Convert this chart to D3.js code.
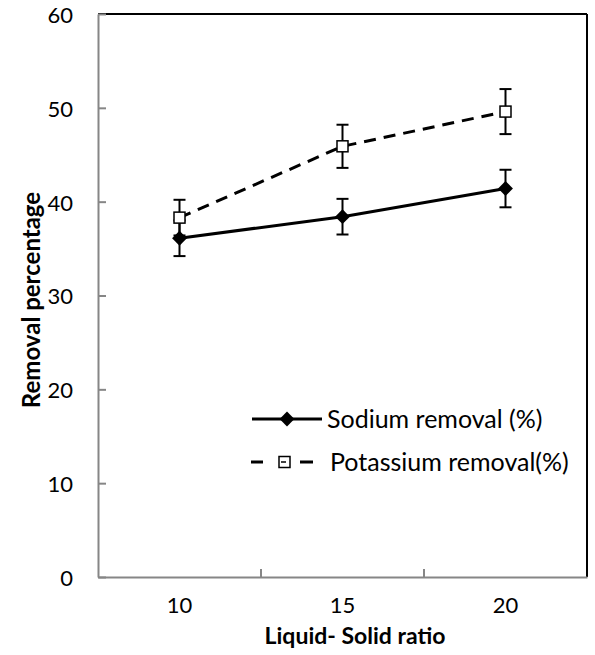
<!DOCTYPE html>
<html><head><meta charset="utf-8">
<script src="https://cdn.jsdelivr.net/npm/d3@7"></script>
<style>body{margin:0;background:#fff}</style>
</head><body>
<svg id="c" width="595" height="655"></svg>
<script>
const categories = ["10","15","20"];
const sodium = [36.1, 38.4, 41.4];
const sodiumErr = [1.9, 1.9, 2.0];
const potassium = [38.3, 45.9, 49.6];
const potassiumErr = [1.9, 2.3, 2.4];
const yTicks = [0,10,20,30,40,50,60];
const seriesNames = ["Sodium removal (%)", "Potassium removal(%)"];

const svg = d3.select("#c");
const m = {l:98, t:14, r:587, b:577};
const font = "Lato, 'Open Sans', sans-serif";
const x = d3.scaleBand().domain(categories).range([m.l, m.r]);
const y = d3.scaleLinear().domain([0,60]).range([m.b, m.t]);
const cx = d => x(d) + x.bandwidth()/2;

// borders top/right
svg.append("line").attr("x1",m.l).attr("x2",m.r).attr("y1",m.t).attr("y2",m.t).attr("stroke","#000").attr("stroke-width",2);
svg.append("line").attr("x1",m.r).attr("x2",m.r).attr("y1",m.t).attr("y2",m.b).attr("stroke","#000").attr("stroke-width",2);

// y axis
const ya = svg.append("g").attr("transform",`translate(${m.l},0)`)
  .call(d3.axisLeft(y).tickValues(yTicks).tickSizeInner(-8).tickSizeOuter(0).tickPadding(25));
ya.select(".domain").attr("stroke","#868686").attr("stroke-width",2);
ya.selectAll(".tick line").attr("stroke","#868686").attr("stroke-width",2);
ya.selectAll(".tick text").attr("font-family",font).attr("font-size",22).attr("fill","#000").attr("text-anchor","end").attr("dy","0.38em");

// x axis
const xa = svg.append("g").attr("transform",`translate(0,${m.b})`)
  .call(d3.axisBottom(x).tickSize(0).tickPadding(20));
xa.select(".domain").attr("stroke","#868686").attr("stroke-width",2);
xa.selectAll(".tick text").attr("font-family",font).attr("font-size",22).attr("fill","#000");
// boundary tick marks
svg.append("g").selectAll("line").data(categories.slice(1)).join("line")
  .attr("x1",d=>x(d)).attr("x2",d=>x(d)).attr("y1",m.b).attr("y2",m.b-8)
  .attr("stroke","#868686").attr("stroke-width",2);

// titles
svg.append("text").attr("x",355).attr("y",644).attr("text-anchor","middle")
  .attr("font-family",font).attr("font-weight","bold").attr("font-size",23).text("Liquid- Solid ratio");
svg.append("text").attr("transform",`translate(40,300) rotate(-90)`).attr("text-anchor","middle")
  .attr("font-family",font).attr("font-weight","bold").attr("font-size",24).text("Removal percentage");

function errBars(vals, errs){
  const g = svg.append("g").attr("stroke","#000").attr("stroke-width",2);
  categories.forEach((c,i)=>{
    const X = cx(c), y1 = y(vals[i]+errs[i]), y2 = y(vals[i]-errs[i]);
    g.append("line").attr("x1",X).attr("x2",X).attr("y1",y1).attr("y2",y2);
    g.append("line").attr("x1",X-6).attr("x2",X+6).attr("y1",y1).attr("y2",y1);
    g.append("line").attr("x1",X-6).attr("x2",X+6).attr("y1",y2).attr("y2",y2);
  });
}
errBars(sodium, sodiumErr);
errBars(potassium, potassiumErr);

const line = d3.line().x((d,i)=>cx(categories[i])).y(d=>y(d));
svg.append("path").datum(potassium).attr("d",line).attr("fill","none").attr("stroke","#000").attr("stroke-width",3).attr("stroke-dasharray","12,8");
svg.append("path").datum(sodium).attr("d",line).attr("fill","none").attr("stroke","#000").attr("stroke-width",3);

const diamond = d3.symbol().type(d3.symbolDiamond2).size(140);
svg.append("g").selectAll("path").data(sodium).join("path")
  .attr("transform",(d,i)=>`translate(${cx(categories[i])},${y(d)})`).attr("d",diamond()).attr("fill","#000");
svg.append("g").selectAll("rect").data(potassium).join("rect")
  .attr("x",(d,i)=>cx(categories[i])-5.5).attr("y",d=>y(d)-5.5).attr("width",11).attr("height",11)
  .attr("fill","#fff").attr("stroke","#000").attr("stroke-width",1.5);

// legend
const lg = svg.append("g");
const ly = [419, 462];
lg.append("line").attr("x1",252).attr("x2",322).attr("y1",ly[0]).attr("y2",ly[0]).attr("stroke","#000").attr("stroke-width",3);
lg.append("path").attr("transform",`translate(287,${ly[0]})`).attr("d",diamond()).attr("fill","#000");
lg.append("line").attr("x1",251).attr("x2",313).attr("y1",ly[1]).attr("y2",ly[1]).attr("stroke","#000").attr("stroke-width",3).attr("stroke-dasharray","12,37,13");
lg.append("rect").attr("x",279).attr("y",ly[1]-5.5).attr("width",11).attr("height",11).attr("fill","#fff").attr("stroke","#000").attr("stroke-width",1.5);
lg.append("line").attr("x1",281).attr("x2",286).attr("y1",ly[1]).attr("y2",ly[1]).attr("stroke","#000").attr("stroke-width",1.5);
lg.append("text").attr("x",327).attr("y",ly[0]).attr("dy","0.35em").attr("font-family",font).attr("font-size",25).text(seriesNames[0]);
lg.append("text").attr("x",330).attr("y",ly[1]).attr("dy","0.35em").attr("font-family",font).attr("font-size",25).text(seriesNames[1]);
</script>
</body></html>
